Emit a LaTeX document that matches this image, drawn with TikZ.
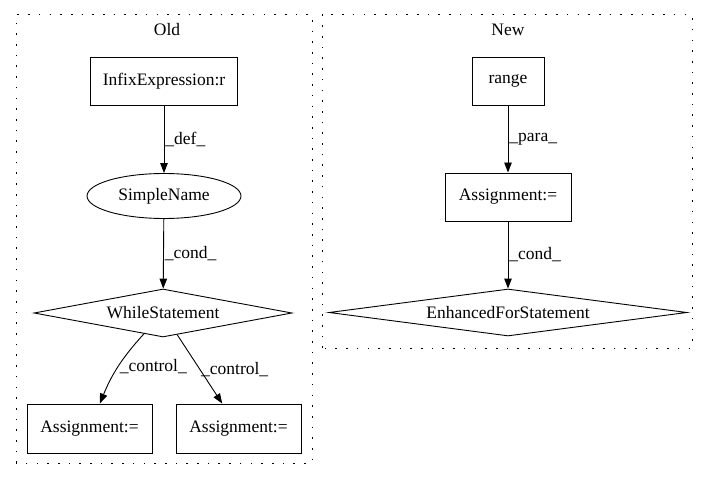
\documentclass[tikz,border=0pt]{standalone}
\usepackage{fontspec}
\setmainfont{Liberation Serif}
\usetikzlibrary{shapes.geometric, arrows.meta}
\tikzset{>={Triangle[length=10pt,width=7.5pt]}}
\tikzset{
  every node/.style={font=\fontsize{17.5}{20}\selectfont},
  astbox/.style={draw, rectangle, line width=0.9pt, inner sep=0pt},
  astoval/.style={draw, ellipse, line width=0.9pt, inner sep=0pt},
  astdiam/.style={draw, diamond, line width=0.9pt, inner sep=0pt, aspect=7},
  cluster/.style={line width=1pt, dash pattern=on 1.6pt off 9.1pt},
  elabel/.style={anchor=west, inner xsep=1pt, inner ysep=0pt},
}

\begin{document}
\begin{tikzpicture}[x=1pt, y=1pt, line width=0.9pt]
\useasboundingbox (0,0) rectangle (709,480);
% clusters
\draw[cluster] (16,17) rectangle (312,465);
\draw[cluster] (322,132) rectangle (692,465);
\node (oldT) at (167,450) {Old};
\node (newT) at (508,450) {New};
% old
\node[astbox, minimum width=147pt, minimum height=48pt] (infix) at (164,399) {InfixExpression:r};
\node[astoval, minimum width=154pt, minimum height=45pt] (sname) at (164,284) {SimpleName};
\node[astdiam, minimum width=258pt, minimum height=48pt] (while) at (163,167) {WhileStatement};
\node[astbox, minimum width=125pt, minimum height=49pt] (asgA) at (89.5,51.5) {Assignment:=};
\node[astbox, minimum width=125pt, minimum height=49pt] (asgB) at (238.5,51.5) {Assignment:=};
% new
\node[astbox, minimum width=72pt, minimum height=48pt] (rng) at (508,399) {range};
\node[astbox, minimum width=126pt, minimum height=48pt] (asgN) at (508,283) {Assignment:=};
\node[astdiam, minimum width=358pt, minimum height=47pt] (efor) at (508,167.5) {EnhancedForStatement};
% edges
\draw[->] (infix) -- (sname) node[elabel, midway] {\_def\_};
\draw[->] (sname) -- (while) node[elabel, midway] {\_cond\_};
\draw[->] (while) to[bend right=10] node[elabel, midway] {\_control\_} (asgA);
\draw[->] (while) -- (asgB) node[elabel, midway] {\_control\_};
\draw[->] (rng) -- (asgN) node[elabel, midway] {\_para\_};
\draw[->] (asgN) -- (efor) node[elabel, midway] {\_cond\_};
\end{tikzpicture}
\end{document}
